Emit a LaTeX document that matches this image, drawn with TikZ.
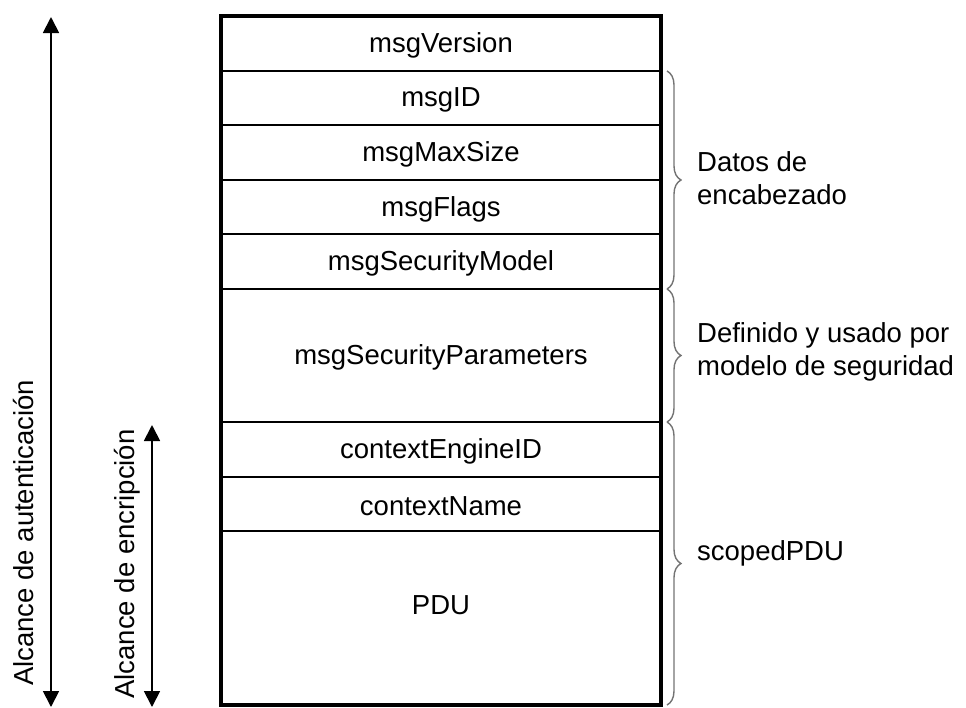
\documentclass[tikz,border=0pt]{standalone}
\usepackage{fontspec}
\setmainfont{Liberation Sans}
\usetikzlibrary{arrows.meta,decorations.pathreplacing,calc}
\begin{document}
\begin{tikzpicture}[x=1pt,y=-1pt,
  lbl/.style={font=\fontsize{27.5}{33}\selectfont, inner sep=0pt},
  rowlbl/.style={lbl, yshift=-2pt},
  sidelbl/.style={font=\fontsize{27.5}{33}\selectfont, inner sep=0pt, anchor=west, align=left},
  rowline/.style={line width=2.2pt},
  frame/.style={line width=4.5pt},
  scopearrow/.style={line width=1.8pt, {Triangle[length=16pt,width=16pt]}-{Triangle[length=16pt,width=16pt]}},
  bracestyle/.style={draw=black!55, line width=1.4pt, decorate, decoration={brace, amplitude=14pt}},
]
\useasboundingbox (0,0) rectangle (966,707);
% coordinates of rows
\foreach \n/\y in {r0/16,r1/71,r2/125,r3/180,r4/234,r5/289,r6/422,r7/477,r8/531,r9/705}{
  \coordinate (\n L) at (221,\y);
  \coordinate (\n R) at (661,\y);
}
% row separators
\foreach \n in {r1,r2,r3,r4,r5,r6,r7,r8}{
  \draw[rowline] (\n L) -- (\n R);
}
% frame
\draw[frame] (r9L) -- (r0L) -- (r0R) -- (r9R) -- cycle;
% labels
\node[rowlbl] (v) at ($(r0L)!0.5!(r1R)$) {msgVersion};
\node[rowlbl] (id) at ($(r1L)!0.5!(r2R)$) {msgID};
\node[rowlbl] (ms) at ($(r2L)!0.5!(r3R)$) {msgMaxSize};
\node[rowlbl] (fl) at ($(r3L)!0.5!(r4R)$) {msgFlags};
\node[rowlbl] (sm) at ($(r4L)!0.5!(r5R)$) {msgSecurityModel};
\node[rowlbl] (sp) at ($(r5L)!0.5!(r6R)$) {msgSecurityParameters};
\node[rowlbl] (ce) at ($(r6L)!0.5!(r7R)$) {contextEngineID};
\node[rowlbl] (cn) at ($(r7L)!0.5!(r8R)$) {contextName};
\node[rowlbl] (pdu) at (441,603) {PDU};
% braces
\coordinate (b1t) at (667,71);  \coordinate (b1b) at (667,289);
\coordinate (b2t) at (667,289); \coordinate (b2b) at (667,422);
\coordinate (b3t) at (667,422); \coordinate (b3b) at (667,705);
\draw[bracestyle] (b1t) -- (b1b);
\draw[bracestyle] (b2t) -- (b2b);
\draw[bracestyle] (b3t) -- (b3b);
\node[sidelbl] (d1) at (697,178) {Datos de\\encabezado};
\node[sidelbl] (d2) at (697,352) {Definido y usado por\\modelo de seguridad};
\node[sidelbl] (d3) at (697,553) {scopedPDU};
% scope arrows
\coordinate (a1t) at (51,17); \coordinate (a1b) at (51,707);
\coordinate (a2t) at (152,425); \coordinate (a2b) at (152,707);
\draw[scopearrow] (a1b) -- (a1t);
\draw[scopearrow] (a2b) -- (a2t);
\node[lbl, rotate=90] (l1) at (24,533) {Alcance de autenticación};
\node[lbl, rotate=90] (l2) at (127,564) {Alcance de encripción};
\end{tikzpicture}
\end{document}
